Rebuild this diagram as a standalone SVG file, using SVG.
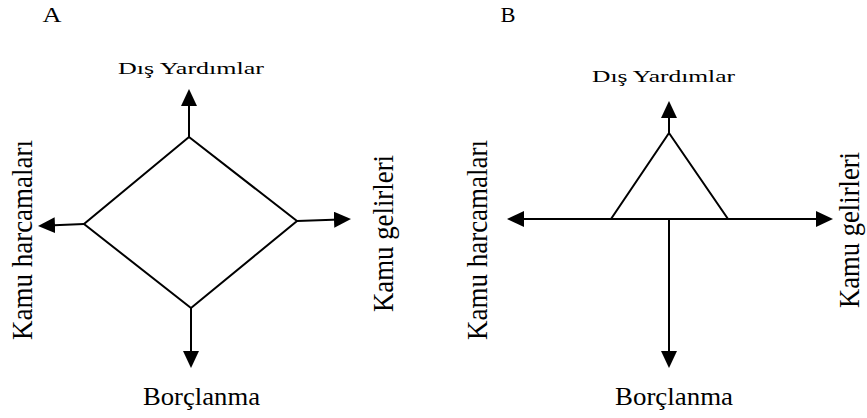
<svg xmlns="http://www.w3.org/2000/svg" width="867" height="418" viewBox="0 0 867 418">
<style>
.ln{fill:none;stroke:#000;stroke-width:2;stroke-linejoin:miter}
.t{font-family:"Liberation Serif","Times New Roman",serif;fill:#000}
</style>
<defs>
<marker id="ah" markerUnits="userSpaceOnUse" markerWidth="17" markerHeight="16" refX="13" refY="8" orient="auto" viewBox="0 0 17 16">
<path d="M0,0 L17,8 L0,16 z" fill="#000"/>
</marker>
</defs>
<rect width="867" height="418" fill="#fff"/>

<g id="panelA-labels">
<text class="t" x="52" y="22" font-size="21" text-anchor="middle" textLength="19" lengthAdjust="spacingAndGlyphs">A</text>
</g>
<g id="A-shape">
<polygon class="ln" points="189,137 297,221 191,308 84,224"/>
</g>
<g id="A-connectors">
<line class="ln" x1="189" y1="137" x2="189" y2="93" marker-end="url(#ah)"/>
<line class="ln" x1="84" y1="224" x2="42" y2="225.8" marker-end="url(#ah)"/>
<line class="ln" x1="297" y1="221" x2="347" y2="219.2" marker-end="url(#ah)"/>
<line class="ln" x1="191" y1="308" x2="191" y2="364" marker-end="url(#ah)"/>
</g>
<g id="A-dis">
<text class="t" x="191" y="74" font-size="17" text-anchor="middle" textLength="146" lengthAdjust="spacingAndGlyphs">Dış Yardımlar</text>
</g>
<g id="A-harcama">
<text class="t" font-size="27" text-anchor="middle" textLength="200" lengthAdjust="spacingAndGlyphs" transform="translate(32,240) scale(1.1,1) rotate(-90)">Kamu harcamaları</text>
</g>
<g id="A-gelir">
<text class="t" font-size="27" text-anchor="middle" textLength="157" lengthAdjust="spacingAndGlyphs" transform="translate(393,233.5) scale(1.1,1) rotate(-90)">Kamu gelirleri</text>
</g>
<g id="A-borc">
<text class="t" x="201.5" y="405" font-size="26" text-anchor="middle" textLength="117" lengthAdjust="spacingAndGlyphs">Borçlanma</text>
</g>

<g id="panelB-labels">
<text class="t" x="508" y="22" font-size="21" text-anchor="middle" textLength="15" lengthAdjust="spacingAndGlyphs">B</text>
</g>
<g id="B-shape">
<polygon class="ln" points="669,133 728,219 611,219"/>
</g>
<g id="B-connectors">
<line class="ln" x1="669" y1="133" x2="669" y2="105" marker-end="url(#ah)"/>
<line class="ln" x1="669" y1="219" x2="511" y2="219" marker-end="url(#ah)"/>
<line class="ln" x1="669" y1="219" x2="829" y2="219" marker-end="url(#ah)"/>
<line class="ln" x1="669" y1="219" x2="669" y2="364" marker-end="url(#ah)"/>
</g>
<g id="B-dis">
<text class="t" x="663.5" y="82" font-size="17" text-anchor="middle" textLength="143" lengthAdjust="spacingAndGlyphs">Dış Yardımlar</text>
</g>
<g id="B-harcama">
<text class="t" font-size="27" text-anchor="middle" textLength="200" lengthAdjust="spacingAndGlyphs" transform="translate(487,240) scale(1.1,1) rotate(-90)">Kamu harcamaları</text>
</g>
<g id="B-gelir">
<text class="t" font-size="27" text-anchor="middle" textLength="156" lengthAdjust="spacingAndGlyphs" transform="translate(859,230) scale(1.1,1) rotate(-90)">Kamu gelirleri</text>
</g>
<g id="B-borc">
<text class="t" x="674" y="405" font-size="26" text-anchor="middle" textLength="118" lengthAdjust="spacingAndGlyphs">Borçlanma</text>
</g>
</svg>
